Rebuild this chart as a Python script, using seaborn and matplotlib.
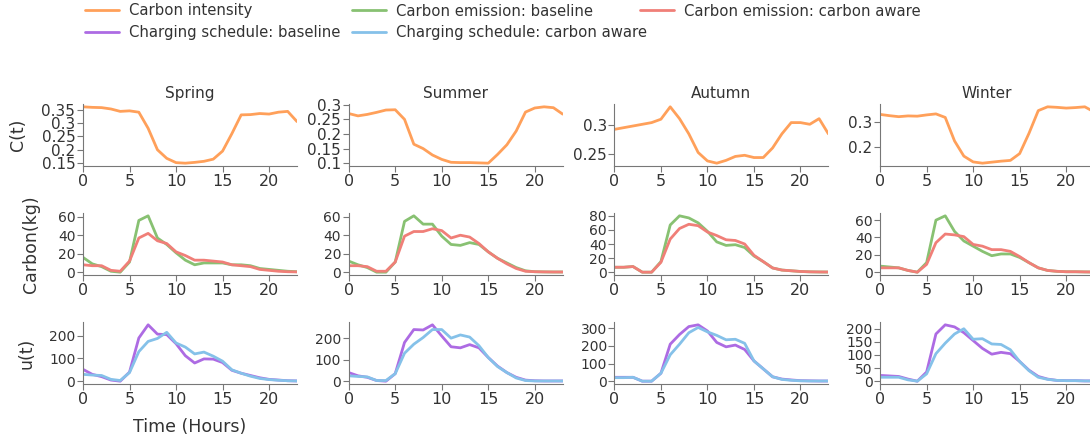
import numpy as np
import pandas as pd
import matplotlib
matplotlib.use("Agg")
import matplotlib.pyplot as plt
import seaborn as sns
from matplotlib.ticker import MultipleLocator, FuncFormatter

sns.set_style("ticks")
plt.rcParams["font.family"] = ["DejaVu Sans"]
plt.rcParams["text.color"] = "#333333"
plt.rcParams["axes.labelcolor"] = "#333333"
plt.rcParams["xtick.color"] = "#777777"
plt.rcParams["ytick.color"] = "#777777"
plt.rcParams["xtick.labelcolor"] = "#333333"
plt.rcParams["ytick.labelcolor"] = "#333333"

hours = list(range(24))
seasons = ["Spring", "Summer", "Autumn", "Winter"]

intensity = {
    "Spring": [0.36, 0.358, 0.357, 0.352, 0.343, 0.345, 0.34, 0.28, 0.2, 0.168, 0.152, 0.15,
               0.153, 0.157, 0.165, 0.195, 0.26, 0.33, 0.331, 0.335, 0.333, 0.34, 0.343, 0.305],
    "Summer": [0.27, 0.262, 0.267, 0.274, 0.282, 0.283, 0.25, 0.165, 0.15, 0.128, 0.113, 0.103,
               0.102, 0.102, 0.101, 0.1, 0.13, 0.163, 0.21, 0.275, 0.289, 0.293, 0.29, 0.268],
    "Autumn": [0.293, 0.296, 0.299, 0.302, 0.305, 0.311, 0.333, 0.312, 0.285, 0.252, 0.237, 0.233,
               0.238, 0.245, 0.247, 0.243, 0.243, 0.26, 0.285, 0.305, 0.305, 0.302, 0.312, 0.285],
    "Winter": [0.33, 0.325, 0.321, 0.324, 0.323, 0.328, 0.332, 0.318, 0.225, 0.165, 0.142, 0.137,
               0.141, 0.145, 0.148, 0.175, 0.255, 0.345, 0.36, 0.358, 0.355, 0.357, 0.36, 0.34],
}

emission_base = {
    "Spring": [16, 9, 6, 1, 0, 11, 56, 61, 37, 30, 21, 13, 8, 10, 10, 10, 8, 8, 7, 4, 3, 2, 1, 0.5],
    "Summer": [12, 8, 5, 0, 0, 11, 55, 61, 52, 52, 39, 30, 29, 32, 30, 22, 15, 10, 5, 1.5, 0.5, 0.3, 0.2, 0.2],
    "Autumn": [7, 7, 8, 0, 0, 15, 67, 80, 77, 70, 58, 43, 38, 39, 35, 23, 15, 6, 3, 2, 1, 0.5, 0.3, 0.2],
    "Winter": [7, 6, 5, 2, 0, 11, 60, 65, 47, 36, 30, 24, 19, 21, 21, 17, 11, 5, 2, 1, 0.5, 0.5, 0.3, 0.2],
}
emission_aware = {
    "Spring": [8, 7, 7, 2, 1, 12, 37, 42, 34, 31, 22, 18, 13, 13, 12, 11, 8, 7, 6, 3, 2, 1, 0.5, 0.3],
    "Summer": [7, 7, 6, 1, 1, 11, 39, 44, 44, 47, 45, 37, 40, 38, 31, 22, 15, 9, 4, 1, 0.5, 0.3, 0.2, 0.2],
    "Autumn": [7, 7, 8, 0, 0, 14, 47, 62, 68, 66, 57, 52, 46, 45, 40, 24, 15, 6, 3, 2, 1, 0.5, 0.3, 0.2],
    "Winter": [5, 5, 5, 2, 0, 9, 34, 44, 43, 41, 32, 30, 26, 26, 24, 18, 11, 5, 2, 1, 0.5, 0.5, 0.3, 0.2],
}

schedule_base = {
    "Spring": [52, 30, 20, 5, 0, 40, 190, 248, 207, 205, 165, 112, 80, 98, 97, 82, 48, 35, 25, 15, 8, 5, 2, 1],
    "Summer": [40, 25, 18, 3, 0, 35, 180, 240, 238, 262, 210, 160, 155, 170, 155, 110, 70, 40, 18, 5, 2, 1, 1, 1],
    "Autumn": [22, 22, 22, 0, 0, 45, 210, 265, 310, 320, 285, 220, 195, 205, 180, 115, 70, 25, 12, 7, 3, 2, 1, 1],
    "Winter": [22, 20, 18, 8, 0, 35, 180, 215, 207, 185, 155, 125, 103, 110, 105, 75, 42, 18, 8, 3, 2, 2, 1, 1],
}
schedule_aware = {
    "Spring": [30, 27, 25, 8, 3, 38, 130, 175, 188, 215, 168, 150, 120, 128, 110, 88, 50, 35, 22, 12, 7, 4, 2, 1],
    "Summer": [25, 22, 20, 3, 3, 35, 130, 172, 203, 240, 240, 200, 215, 205, 165, 110, 68, 40, 15, 3, 1, 1, 1, 1],
    "Autumn": [20, 20, 22, 0, 0, 45, 150, 210, 275, 305, 280, 260, 235, 238, 215, 115, 70, 25, 10, 5, 2, 1, 1, 1],
    "Winter": [15, 15, 15, 5, 0, 28, 105, 145, 180, 200, 160, 162, 142, 140, 120, 75, 40, 15, 7, 3, 2, 2, 1, 1],
}

c_orange = "#FFA05A"
c_green = "#88C172"
c_red = "#F07F78"
c_purple = "#AD6BE3"
c_blue = "#85C1E9"

c_steps = [0.05, 0.05, 0.05, 0.1]
e_steps = [20, 20, 20, 20]
u_steps = [100, 100, 100, 50]

fig = plt.figure(figsize=(10.9, 4.44), dpi=100)
W, H = 1090, 444
col_left = [83 + i * 265.7 for i in range(4)]
row_top = [104, 213, 322]
aw, ah = 214, 62

fmt = FuncFormatter(lambda v, p: f"{v:g}")
handles = {}
for i, s in enumerate(seasons):
    axes = []
    for r in range(3):
        ax = fig.add_axes([col_left[i] / W, 1 - (row_top[r] + ah) / H, aw / W, ah / H])
        axes.append(ax)
    ax1, ax2, ax3 = axes

    sns.lineplot(x=hours, y=intensity[s], ax=ax1, color=c_orange, lw=2, label="Carbon intensity")
    sns.lineplot(x=hours, y=emission_base[s], ax=ax2, color=c_green, lw=2, label="Carbon emission: baseline")
    sns.lineplot(x=hours, y=emission_aware[s], ax=ax2, color=c_red, lw=2, label="Carbon emission: carbon aware")
    sns.lineplot(x=hours, y=schedule_base[s], ax=ax3, color=c_purple, lw=2, label="Charging schedule: baseline")
    sns.lineplot(x=hours, y=schedule_aware[s], ax=ax3, color=c_blue, lw=2, label="Charging schedule: carbon aware")

    for r, ax in enumerate(axes):
        if i == 0:
            for h, l in zip(*ax.get_legend_handles_labels()):
                handles[l] = h
        ax.get_legend().remove()
        ax.set_xlim(0, 23)
        ax.xaxis.set_major_locator(MultipleLocator(5))
        ax.yaxis.set_major_formatter(fmt)
        ax.tick_params(axis="x", labelsize=11.5, length=4, pad=2)
        ax.tick_params(axis="y", labelsize=11 if r == 0 else 10, length=4, pad=1.5)
        for sp in ["left", "bottom"]:
            ax.spines[sp].set_color("#777777")
        sns.despine(ax=ax)
    ax1.yaxis.set_major_locator(MultipleLocator(c_steps[i]))
    ax2.yaxis.set_major_locator(MultipleLocator(e_steps[i]))
    ax3.yaxis.set_major_locator(MultipleLocator(u_steps[i]))
    ax1.set_title(s, fontsize=11, pad=4)
    if i == 0:
        ax1.set_ylabel("C(t)", fontsize=12.5)
        ax2.set_ylabel("Carbon(kg)", fontsize=12.5)
        ax3.set_ylabel("u(t)", fontsize=12.5)
        ax1.yaxis.set_label_coords(-0.262, 0.5)
        ax2.yaxis.set_label_coords(-0.2, 0.5)
        ax3.yaxis.set_label_coords(-0.22, 0.5)
        ax3.set_xlabel("Time (Hours)", fontsize=12.5, labelpad=8)

# legend entries placed one by one, three on the first row and two on the second
entries = ["Carbon intensity", "Carbon emission: baseline", "Carbon emission: carbon aware",
           "Charging schedule: baseline", "Charging schedule: carbon aware"]
entry_x = [85, 352, 640, 85, 352]
entry_y = [11, 11, 11, 33, 33]
for name, ex, ey in zip(entries, entry_x, entry_y):
    fig.legend([handles[name]], [name], loc="center left", bbox_to_anchor=(ex / W, 1 - ey / H),
               frameon=False, fontsize=10.7, handlelength=2.3, handletextpad=0.65,
               borderpad=0, borderaxespad=0)

fig.savefig("out.png", dpi=100)
